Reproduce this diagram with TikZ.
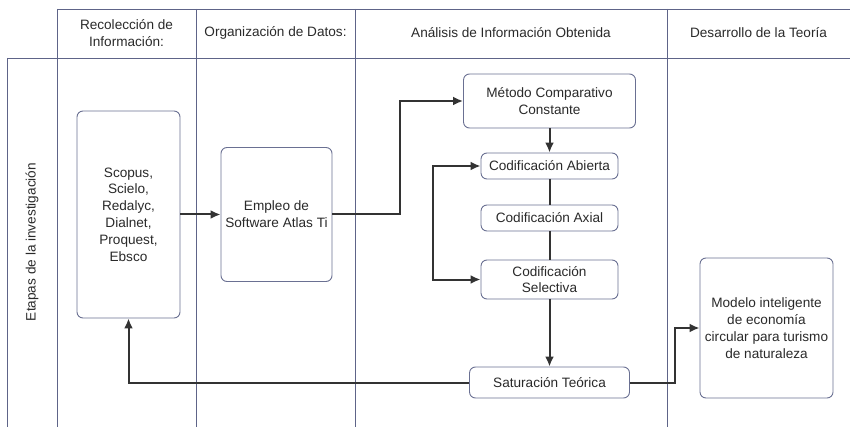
\documentclass[tikz,border=0pt]{standalone}
\usepackage{fontspec}
\setmainfont{Liberation Sans}
\usetikzlibrary{arrows.meta}
\definecolor{lanecol}{HTML}{5E6488}
\definecolor{boxcol}{HTML}{6A7092}
\definecolor{arrcol}{HTML}{333333}
\definecolor{txtcol}{HTML}{2A2A2A}

\begin{document}
\begin{tikzpicture}[x=1pt,y=-1pt,
    font=\fontsize{13.6}{16.8}\selectfont, text=txtcol,
    lane/.style={draw=lanecol, line width=0.9pt},
    etapa/.style={draw=boxcol, line width=0.9pt, rounded corners=6pt, fill=white,
      align=center, inner sep=2pt},
    flujo/.style={draw=arrcol, line width=2pt, -{Latex[length=10pt,width=9pt]}},
    enlace/.style={draw=arrcol, line width=2pt},
    bucle/.style={draw=arrcol, line width=2pt, {Latex[length=10pt,width=9pt]}-{Latex[length=10pt,width=9pt]}}]
      \useasboundingbox (0,0) rectangle (850,427);
      % swimlane grid
      \draw[lane] (57,9) -- (850,9);
      \draw[lane] (7,58) -- (850,58);
      \draw[lane] (7,58) -- (7,427);
      \foreach \xl in {57,196,355,667}
        \draw[lane] (\xl,9) -- (\xl,427);
      % headers
      \node[align=center] (hrec) at (126.5,33) {Recolección de\\Información:};
      \node (horg) at (275.5,33) {Organización de Datos:};
      \node (hana) at (511,33) {Análisis de Información Obtenida};
      \node (hdes) at (758.5,33) {Desarrollo de la Teoría};
      \node[rotate=90] (hetapas) at (32,242) {Etapas de la investigación};
      % boxes
      \node[etapa, minimum width=103pt, minimum height=207pt] (scopus) at (128.5,214.5)
        {Scopus,\\Scielo,\\Redalyc,\\Dialnet,\\Proquest,\\Ebsco};
      \node[etapa, minimum width=111pt, minimum height=134pt] (empleo) at (276.5,214.5)
        {Empleo de\\Software Atlas Ti};
      \node[etapa, minimum width=172pt, minimum height=54pt] (metodo) at (549.5,101)
        {Método Comparativo\\Constante};
      \node[etapa, minimum width=137pt, minimum height=26pt] (abierta) at (549.5,166)
        {Codificación Abierta};
      \node[etapa, minimum width=137pt, minimum height=26pt] (axial) at (549.5,218)
        {Codificación Axial};
      \node[etapa, minimum width=137pt, minimum height=39pt] (selectiva) at (549.5,279.5)
        {Codificación\\Selectiva};
      \node[etapa, minimum width=160pt, minimum height=31pt] (saturacion) at (549.5,382.5)
        {Saturación Teórica};
      \node[etapa, minimum width=133pt, minimum height=140pt] (modelo) at (766.5,328)
        {Modelo inteligente\\de economía\\circular para turismo\\de naturaleza};
      % bends
      \coordinate (bendA) at (400,0);
      \coordinate (bendB) at (433,0);
      \coordinate (bendC) at (675,0);
      % connectors
      \draw[flujo] (scopus.east) -- (empleo.west);
      \draw[flujo] (empleo.east) -| (bendA |- metodo.west) -- (metodo.west);
      \draw[flujo] (metodo.south) -- (abierta.north);
      \draw[enlace] (abierta.south) -- (axial.north);
      \draw[enlace] (axial.south) -- (selectiva.north);
      \draw[bucle] (abierta.west) -| (bendB |- selectiva.west) -- (selectiva.west);
      \draw[flujo] (selectiva.south) -- (saturacion.north);
      \draw[flujo] (saturacion.west) -| (scopus.south);
      \draw[flujo] (saturacion.east) -| (bendC |- modelo.west) -- (modelo.west);
\end{tikzpicture}
\end{document}
